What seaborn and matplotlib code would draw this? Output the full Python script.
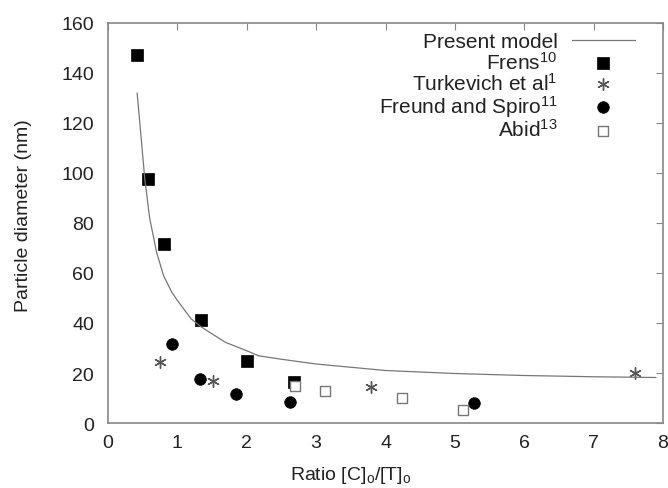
import matplotlib
matplotlib.use("Agg")
import matplotlib.pyplot as plt
import seaborn as sns
import pandas as pd

# ---- data ----
model_x = [0.42, 0.53, 0.60, 0.70, 0.80, 0.92, 1.00, 1.20, 1.34, 1.69, 2.0, 2.17, 2.5, 3.0, 4.0, 5.0, 6.0, 7.0, 7.9]
model_y = [132, 97.6, 82, 68.3, 59, 52.3, 49, 41.6, 38.5, 32.3, 28.9, 26.9, 25.5, 23.6, 21.0, 19.8, 19.0, 18.5, 18.2]

frens_x = [0.42, 0.57, 0.80, 1.34, 2.00, 2.68]
frens_y = [147, 97.6, 71.6, 41, 24.7, 16.3]

turk_x = [0.75, 1.52, 3.79, 7.60]
turk_y = [24.3, 16.9, 14.3, 20.0]

freund_x = [0.92, 1.32, 1.84, 2.62, 5.28]
freund_y = [31.6, 17.6, 11.6, 8.3, 7.9]

abid_x = [2.69, 3.13, 4.24, 5.11]
abid_y = [15.0, 12.7, 9.9, 5.2]

x_ticks = [0, 1, 2, 3, 4, 5, 6, 7, 8]
y_ticks = [0, 20, 40, 60, 80, 100, 120, 140, 160]

sns.set_theme(style="white")
plt.rcParams['font.family'] = ['Liberation Sans', 'DejaVu Sans']
plt.rcParams['mathtext.fontset'] = 'custom'
plt.rcParams['mathtext.rm'] = 'Liberation Sans'
plt.rcParams['mathtext.it'] = 'Liberation Sans'

TXT = '#222222'
fig = plt.figure(figsize=(6.68, 4.89), dpi=100)
ax = fig.add_axes([0.1617, 0.1329, 0.8308, 0.8181])

sns.lineplot(x=model_x, y=model_y, ax=ax, color='#777777', lw=0.9,
             label='Present model', sort=False)
sns.scatterplot(x=frens_x, y=frens_y, ax=ax, marker='s', s=64, color='black',
                edgecolor='black', linewidth=0.5, label=r'Frens$^{\mathregular{10}}$')
sns.scatterplot(x=turk_x, y=turk_y, ax=ax, marker=(6, 2, 0), s=70, color='#555555',
                edgecolor='#555555', linewidth=1.0, label=r'Turkevich et al$^{\mathregular{1}}$')
sns.scatterplot(x=freund_x, y=freund_y, ax=ax, marker='o', s=70, color='black',
                edgecolor='black', linewidth=0.5, label=r'Freund and Spiro$^{\mathregular{11}}$')
sns.scatterplot(x=abid_x, y=abid_y, ax=ax, marker='s', s=60, facecolor='white',
                edgecolor='#777777', linewidth=1.0, label=r'Abid$^{\mathregular{13}}$')

ax.set_xlim(0, 8)
ax.set_ylim(0, 160)
ax.set_xticks(x_ticks)
ax.set_yticks(y_ticks)
ax.tick_params(direction='in', length=5, width=0.8, color='#888888',
               top=True, right=True, labelsize=14, labelcolor=TXT)
ax.tick_params(axis='y', pad=10)
ax.tick_params(axis='x', pad=8)
for sp in ax.spines.values():
    sp.set_color('#888888')
    sp.set_linewidth(1.2)
ax.set_xlabel(r'Ratio [C]$_{\mathregular{o}}$/[T]$_{\mathregular{o}}$', fontsize=14, color=TXT)
ax.set_ylabel('Particle diameter (nm)', fontsize=14, color=TXT)
ax.xaxis.set_label_coords(0.438, -0.1025)
ax.yaxis.set_label_coords(-0.137, 0.52)

leg = ax.legend(loc='upper right', bbox_to_anchor=(0.964, 0.998), frameon=False,
                markerfirst=False, fontsize=15, handlelength=3.0, labelspacing=-0.03,
                borderaxespad=0.0, handletextpad=0.7, alignment='right')
for t in leg.get_texts():
    t.set_ha('right')
    t.set_color(TXT)

fig.savefig('out.png', dpi=100)
